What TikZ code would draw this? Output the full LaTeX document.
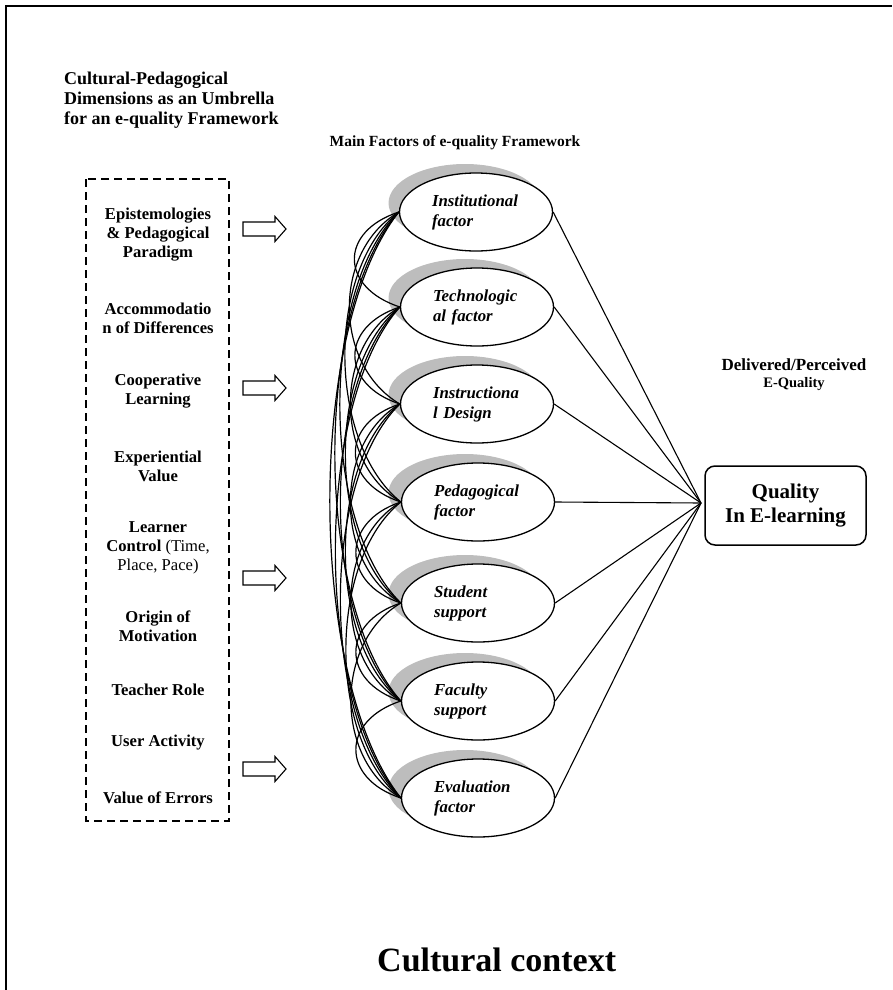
\documentclass[tikz,border=0pt]{standalone}
\usepackage{fontspec}
\setmainfont{Liberation Serif}
\usetikzlibrary{shapes.geometric}

\tikzset{
  factor/.style={ellipse, draw, line width=1.3pt, fill=white,
    minimum width=153pt, minimum height=78pt, inner sep=0pt,
    text width=88pt, align=left,
    font=\fontsize{16.8}{20}\selectfont\bfseries\itshape},
  halo/.style={fill=black!26},
  link/.style={line width=1.2pt},
  spoke/.style={line width=1.1pt},
  dimtext/.style={align=center, inner sep=0pt,
    font=\fontsize{16.6}{19}\selectfont\bfseries},
  heading/.style={inner sep=0pt, font=\bfseries},
  blockarr/.style={draw, line width=1.1pt, fill=white, line join=miter},
  qualitybox/.style={draw, rounded corners=10pt, line width=1.5pt,
    minimum width=161pt, minimum height=79pt, align=center,
    font=\fontsize{21}{24}\selectfont\bfseries},
  umbrella/.style={draw, dashed, dash pattern=on 8pt off 5pt, line width=1.8pt}
}

\begin{document}
\begin{tikzpicture}[x=1pt, y=-1pt]
\useasboundingbox (0,0) rectangle (892,990);

% page frame (left and top edges)
\draw[line width=2.5pt] (6,990) -- (6,6) -- (892,6);

% left column: heading and dashed umbrella box
\node[heading, anchor=west, align=left,
      font=\fontsize{18}{20}\selectfont\bfseries] (umbhead) at (64,100.5)
  {Cultural-Pedagogical\\Dimensions as an Umbrella\\for an e-quality Framework};
\draw[umbrella] (86,179) rectangle (229,821);

\node[dimtext] (d1) at (158,235) {Epistemologies\\\& Pedagogical\\Paradigm};
\node[dimtext] (d2) at (158,318) {Accommodatio\\n of Differences};
\node[dimtext] (d3) at (158,391) {Cooperative\\Learning};
\node[dimtext] (d4) at (158,466) {Experiential\\Value};
\node[dimtext] (d5) at (158,548) {Learner\\Control {\mdseries(Time,}\\{\mdseries Place, Pace)}};
\node[dimtext] (d6) at (158,626) {Origin of\\Motivation};
\node[dimtext] (d7) at (158,690) {Teacher Role};
\node[dimtext] (d8) at (158,743) {User Activity};
\node[dimtext] (d9) at (158,798) {Value of Errors};

% hollow block arrows pointing at the factors
\foreach \cy in {229,388,578,769}{
  \draw[blockarr] (243,{\cy-7}) -- (275,{\cy-7}) -- (275,{\cy-12.5})
    -- (286,\cy) -- (275,{\cy+12.5}) -- (275,{\cy+7}) -- (243,{\cy+7}) -- cycle;
}

% middle column heading
\node[heading, font=\fontsize{15.5}{18}\selectfont\bfseries] (mainhead) at (455,143)
  {Main Factors of e-quality Framework};

% grey halos behind the factor ellipses
\foreach \cy in {212,307,404,502,603,701,798}{
  \fill[halo] (465,{\cy-9}) ellipse [x radius=76.5pt, y radius=39pt];
}

% factor ellipses
\node[factor] (f1) at (476,212) {Institutional\\factor};
\node[factor] (f2) at (477,307) {Technologic\\al factor};
\node[factor] (f3) at (477,404) {Instructiona\\l Design};
\node[factor] (f4) at (478,502) {Pedagogical\\factor};
\node[factor] (f5) at (478,603) {Student\\support};
\node[factor] (f6) at (478,701) {Faculty\\support};
\node[factor] (f7) at (478,798) {Evaluation\\factor};

% covariance curves between every pair of factors
\foreach \i in {1,...,6}{
  \pgfmathtruncatemacro\inext{\i+1}
  \foreach \j in {\inext,...,7}{
    \pgfmathsetmacro\dist{\j-\i}
    \pgfmathsetmacro\bw{(40+5*\dist)/0.75}
    \pgfmathsetmacro\dv{0.2*98*\dist}
    \draw[link] (f\i.west) .. controls +(-\bw,\dv) and +(-\bw,-\dv) .. (f\j.west);
  }
}

% outcome
\coordinate (conv) at (701,503);
\foreach \i in {1,...,7}{
  \draw[spoke] (f\i.east) -- (conv);
}
\node[qualitybox] (qual) at (785.5,505.5) {Quality\\In E-learning};
\node[heading, font=\fontsize{17}{19}\selectfont\bfseries] (deliv) at (794,365)
  {Delivered/Perceived};
\node[heading, font=\fontsize{14.5}{17}\selectfont\bfseries] (equal) at (794,384)
  {E-Quality};

% context label
\node[heading, anchor=west, font=\fontsize{34}{40}\selectfont\bfseries] (ctx) at (377,960)
  {Cultural context};
\end{tikzpicture}
\end{document}
